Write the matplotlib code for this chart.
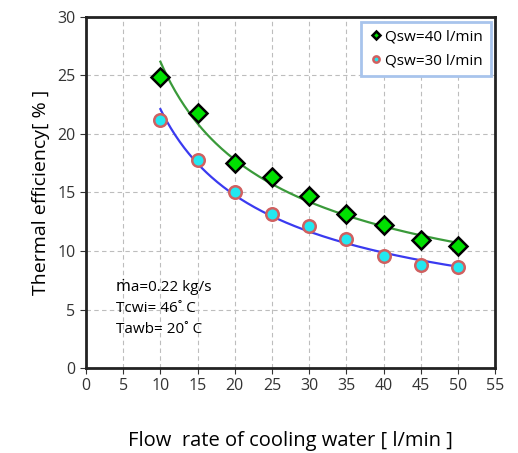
import matplotlib.pyplot as plt
import numpy as np

plt.rcParams['font.family'] = ['Open Sans', 'DejaVu Sans']

flow = [10, 15, 20, 25, 30, 35, 40, 45, 50]
eff_40 = [24.9, 21.8, 17.5, 16.3, 14.7, 13.2, 12.2, 10.9, 10.4]
eff_30 = [21.2, 17.8, 15.0, 13.2, 12.1, 11.0, 9.6, 8.8, 8.6]

fig = plt.figure(figsize=(5.18, 4.53), dpi=100)
ax = fig.add_axes([0.166, 0.1876, 0.79, 0.775])

# power trend lines (like excel)
xs = np.linspace(10, 50, 200)
for y, c in [(eff_40, "#3a9a3a"), (eff_30, "#3a3af0")]:
    b, a = np.polyfit(np.log(flow), np.log(y), 1)
    ax.plot(xs, np.exp(a) * xs ** b, color=c, lw=1.6, zorder=2)

ax.plot(flow, eff_40, "D", color="#00e000", mec="black", mew=1.8,
        ms=9, label="Qsw=40 l/min", zorder=3)
ax.plot(flow, eff_30, "o", color="#22e8f0", mec="#d06060", mew=1.8,
        ms=9, label="Qsw=30 l/min", zorder=3)

ax.set_xlim(0, 55)
ax.set_ylim(0, 30)
ax.set_xticks(range(0, 56, 5))
ax.set_yticks(range(0, 31, 5))
ax.tick_params(labelsize=11.5, colors="#333333", length=4)
ax.grid(ls=(0, (4, 3)), color="#bdbdbd", lw=0.8)
for s in ax.spines.values():
    s.set_linewidth(2)
    s.set_color("#222222")

ax.set_xlabel("Flow  rate of cooling water [ l/min ]", fontsize=14.5, labelpad=26)
ax.set_ylabel("Thermal efficiency[ % ]", fontsize=14, labelpad=5)

ax.text(4, 6.6, "ṁa=0.22 kg/s", fontsize=11)
ax.text(4, 4.8, "Tcwi= 46˚ C", fontsize=11)
ax.text(4, 3.0, "Tawb= 20˚ C", fontsize=11)

leg = ax.legend(loc="upper right", fontsize=11, markerscale=0.5,
                handletextpad=0.1, handlelength=1.0, fancybox=False,
                framealpha=1, borderaxespad=0.3, labelspacing=0.6,
                borderpad=0.5)
leg.get_frame().set_edgecolor("#a8c4ec")
leg.get_frame().set_linewidth(2)

plt.savefig("out.png", dpi=100)
